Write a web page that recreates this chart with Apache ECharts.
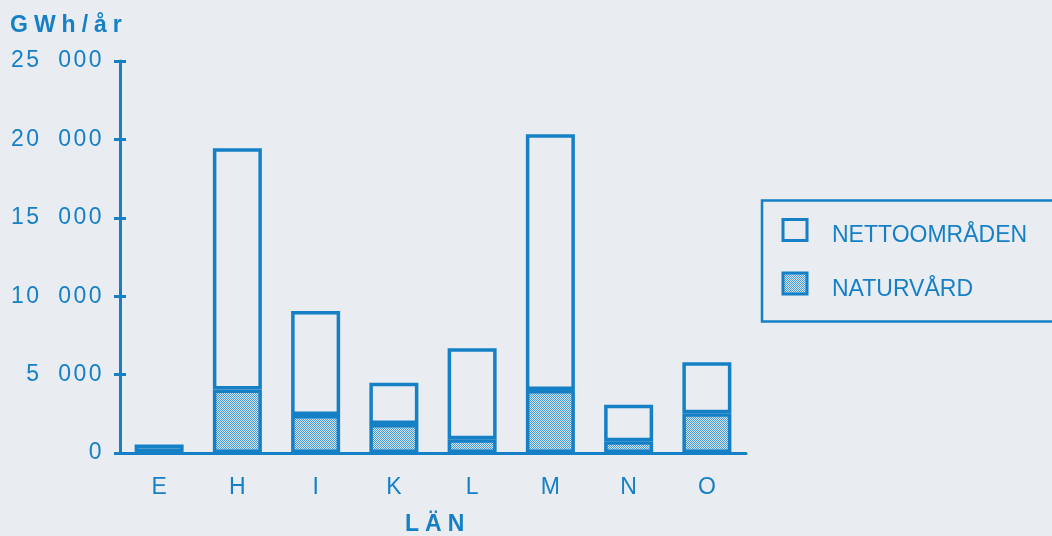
<!DOCTYPE html>
<html>
<head>
<meta charset="utf-8">
<script src="https://cdn.jsdelivr.net/npm/echarts@6/dist/echarts.min.js"></script>
<style>
  html, body { margin: 0; padding: 0; background: #e9ecf1; }
  #chart { width: 1052px; height: 536px; }
</style>
</head>
<body>
<div id="chart"></div>
<script>
// Energy potential per county (GWh/år)
const lan = ['E', 'H', 'I', 'K', 'L', 'M', 'N', 'O'];
const totalt = [550, 19430, 9050, 4480, 6680, 20330, 3080, 5780];
const naturvard = [80, 4050, 2420, 1850, 870, 4020, 750, 2530];
const yTickLabels = ['0', '5 000', '10 000', '15 000', '20 000', '25 000'];

// Upper segment of each stacked bar
const netto = totalt.map((t, i) => t - naturvard[i]);

const BLUE = '#1580c6';
const BG = '#e9ecf1';
const FONT = '"Liberation Sans", Arial, sans-serif';

// Fine stipple used for the lower segments
const dots = document.createElement('canvas');
dots.width = 2; dots.height = 2;
(function () {
  const g = dots.getContext('2d');
  g.fillStyle = '#d2e5f2'; g.fillRect(0, 0, 2, 2);
  g.fillStyle = '#4b9bd3'; g.fillRect(0, 0, 1, 1); g.fillRect(1, 1, 1, 1);
})();
const dotFill = { image: dots, repeat: 'repeat' };

const chart = echarts.init(document.getElementById('chart'), null, { renderer: 'canvas' });

// Letter-spaced text: every character becomes its own rich token
const spaced = (s) => s.split('').map(c => (c === ' ' ? '{g| }' : '{c|' + c + '}')).join('');

chart.setOption({
  backgroundColor: BG,
  animation: false,
  title: [
    {
      text: spaced('GWh/år'),
      left: 5, top: 9,
      textStyle: {
        rich: { c: { fontSize: 23, fontWeight: 'bold', color: BLUE, fontFamily: FONT, padding: [0, 6, 0, 0] } }
      }
    },
    {
      text: spaced('LÄN'),
      left: 400, top: 508,
      textStyle: {
        rich: { c: { fontSize: 23, fontWeight: 'bold', color: BLUE, fontFamily: FONT, padding: [0, 6, 0, 0] } }
      }
    }
  ],
  grid: { left: 120, right: 306, top: 61, bottom: 83 },
  legend: {
    orient: 'vertical',
    left: 776.5, top: 213,
    itemWidth: 24, itemHeight: 21,
    itemGap: 24,
    icon: 'rect',
    formatter: (name) => '{t|' + name + '}',
    textStyle: {
      rich: { t: { fontSize: 23, color: BLUE, fontFamily: FONT, padding: [12, 0, 0, 20] } }
    },
    data: [
      { name: 'NETTOOMRÅDEN', itemStyle: { color: 'transparent', borderColor: BLUE, borderWidth: 3 } },
      { name: 'NATURVÅRD', itemStyle: { color: dotFill, borderColor: BLUE, borderWidth: 3 } }
    ]
  },
  graphic: [
    {
      type: 'rect',
      shape: { x: 762, y: 200.5, width: 330, height: 121 },
      style: { fill: 'none', stroke: BLUE, lineWidth: 2.5 },
      silent: true
    }
  ],
  xAxis: [
    {
      type: 'category',
      data: lan,
      axisLine: { lineStyle: { color: BLUE, width: 3 } },
      axisTick: { length: 7, lineStyle: { color: BLUE, width: 3 } },
      axisLabel: { color: BLUE, fontSize: 23, fontFamily: FONT, margin: 23 }
    },
    {
      type: 'category',
      data: lan,
      position: 'bottom',
      axisLine: { show: false },
      axisTick: { inside: true, length: 6, lineStyle: { color: BLUE, width: 3 } },
      axisLabel: { show: false }
    }
  ],
  yAxis: [
    {
      type: 'value',
      min: 0, max: 25000, interval: 5000,
      splitLine: { show: false },
      axisLine: { show: true, lineStyle: { color: BLUE, width: 3 } },
      axisTick: { show: true, length: 6, lineStyle: { color: BLUE, width: 3 } },
      axisLabel: {
        margin: 16,
        formatter: (v) => spaced(yTickLabels[Math.round(v / 5000)]),
        rich: {
          c: { fontSize: 23, color: BLUE, fontFamily: FONT, padding: [0, 2.5, 0, 0] },
          g: { fontSize: 23, fontFamily: FONT, width: 16.5 }
        }
      }
    },
    {
      type: 'value',
      min: 0, max: 25000, interval: 5000,
      position: 'left',
      splitLine: { show: false },
      axisLine: { show: false },
      axisTick: { show: true, inside: true, length: 6, lineStyle: { color: BLUE, width: 3 } },
      axisLabel: { show: false }
    }
  ],
  series: [
    {
      name: 'NATURVÅRD',
      type: 'bar',
      stack: 'total',
      barWidth: 49,
      data: naturvard,
      itemStyle: { color: dotFill, borderColor: BLUE, borderWidth: 3.5 }
    },
    {
      name: 'NETTOOMRÅDEN',
      type: 'bar',
      stack: 'total',
      barWidth: 49,
      data: netto,
      itemStyle: { color: 'transparent', borderColor: BLUE, borderWidth: 3.5 }
    }
  ]
});
</script>
</body>
</html>
